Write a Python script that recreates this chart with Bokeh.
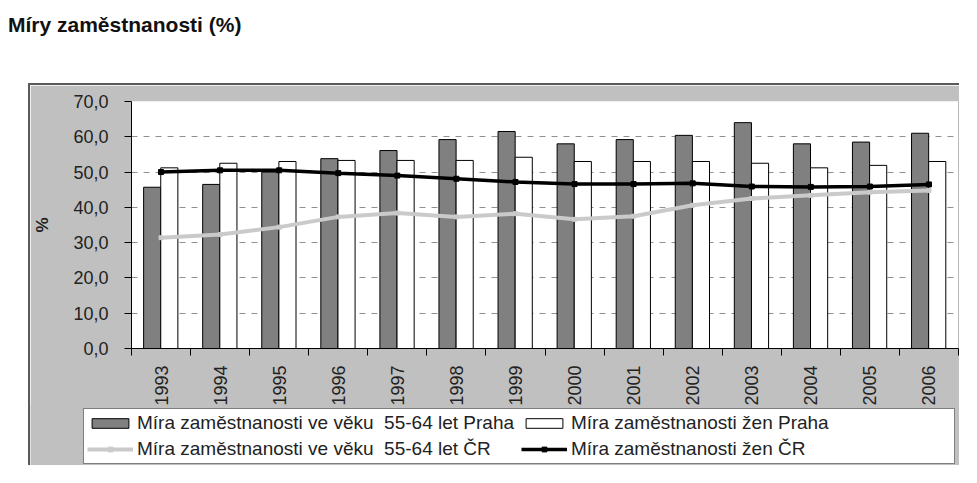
import numpy as np
from bokeh.plotting import figure
from bokeh.models import (Range1d, FixedTicker, Legend, LegendItem, Span, Div,
                          ColumnDataSource)
from bokeh.layouts import column, row
from bokeh.embed import file_html
from bokeh.resources import INLINE
from math import pi

# ---------------- data ----------------
title_text = "Míry zaměstnanosti (%)"
years = ["1993", "1994", "1995", "1996", "1997", "1998", "1999",
         "2000", "2001", "2002", "2003", "2004", "2005", "2006"]
praha_55_64 = [45.7, 46.5, 50.0, 53.8, 56.1, 59.2, 61.5, 58.0, 59.2, 60.4, 64.0, 58.0, 58.5, 61.0]
praha_zeny = [51.2, 52.5, 53.0, 53.3, 53.3, 53.3, 54.2, 53.0, 53.0, 53.0, 52.5, 51.2, 51.9, 53.0]
cr_55_64 = [31.4, 32.3, 34.4, 37.3, 38.4, 37.3, 38.2, 36.6, 37.5, 40.6, 42.5, 43.4, 44.3, 44.8]
cr_zeny = [50.0, 50.5, 50.5, 49.7, 49.0, 48.1, 47.2, 46.6, 46.6, 46.8, 45.9, 45.8, 45.9, 46.5]
y_ticks = [0, 10, 20, 30, 40, 50, 60, 70]
y_tick_labels = ["0,0", "10,0", "20,0", "30,0", "40,0", "50,0", "60,0", "70,0"]
y_axis_label = "%"
legend_labels = ["Míra zaměstnanosti ve věku  55-64 let Praha",
                 "Míra zaměstnanosti žen Praha",
                 "Míra zaměstnanosti ve věku  55-64 let ČR",
                 "Míra zaměstnanosti žen ČR"]

# ---------------- style ----------------
FONT = "Liberation Sans"
BG = "#c0c0c0"
EDGE = "2px solid #5a5a5a"
n = len(years)
centers = np.arange(n) + 0.5
bar_w = 0.29

src = ColumnDataSource(dict(
    x_gray=centers - 0.15,
    x_white=centers + 0.14,
    x=centers,
    praha_55_64=praha_55_64,
    praha_zeny=praha_zeny,
    cr_55_64=cr_55_64,
    cr_zeny=cr_zeny,
))


def draw_series(fig):
    rg = fig.vbar(x="x_gray", top="praha_55_64", width=bar_w, source=src,
                  fill_color="#808080", line_color="black", line_width=1)
    rw = fig.vbar(x="x_white", top="praha_zeny", width=bar_w, source=src,
                  fill_color="white", line_color="black", line_width=1)
    gl = fig.line(x="x", y="cr_55_64", source=src, line_color="#cacaca", line_width=4)
    gm = fig.scatter(x="x", y="cr_55_64", source=src, marker="square", size=4,
                     fill_color="#cacaca", line_color="#cacaca")
    bl = fig.line(x="x", y="cr_zeny", source=src, line_color="black", line_width=3.5)
    bm = fig.scatter(x="x", y="cr_zeny", source=src, marker="square", size=5,
                     fill_color="black", line_color="black")
    return rg, rw, gl, gm, bl, bm


# ---------------- main chart ----------------
p = figure(width=931, height=324, output_backend="svg", toolbar_location=None,
           x_range=Range1d(0, n), y_range=Range1d(0, 70),
           min_border_left=100, min_border_right=3, min_border_top=16,
           min_border_bottom=61,
           border_fill_color=BG, background_fill_color="white",
           outline_line_color=None, margin=(0, 0, 0, 28),
           styles={"border-left": EDGE, "border-top": EDGE})

draw_series(p)
p.add_layout(Span(location=n, dimension="height", line_color="#808080", line_width=1))

p.xgrid.visible = False
p.ygrid.ticker = FixedTicker(ticks=y_ticks[1:-1])
p.ygrid.grid_line_color = "#909090"
p.ygrid.grid_line_dash = "6 6"
p.ygrid.grid_line_width = 1

p.yaxis.ticker = FixedTicker(ticks=y_ticks)
p.yaxis.major_label_overrides = {t: l for t, l in zip(y_ticks, y_tick_labels)}
p.yaxis.minor_tick_line_color = None
p.yaxis.major_tick_in = 0
p.yaxis.major_tick_out = 7
p.yaxis.major_label_standoff = 16
p.yaxis.axis_line_color = "black"
p.yaxis.major_tick_line_color = "black"
p.yaxis.major_label_text_font = FONT
p.yaxis.major_label_text_font_size = "18px"
p.yaxis.major_label_text_color = "#222222"
p.yaxis.axis_label = y_axis_label
p.yaxis.axis_label_text_font = FONT
p.yaxis.axis_label_text_font_size = "17px"
p.yaxis.axis_label_text_font_style = "bold"
p.yaxis.axis_label_text_color = "#222222"
p.yaxis.axis_label_standoff = 18

p.xaxis.ticker = FixedTicker(ticks=list(centers), minor_ticks=list(range(n + 1)))
p.xaxis.major_label_overrides = {float(c): y for c, y in zip(centers, years)}
p.xaxis.major_tick_line_color = None
p.xaxis.major_tick_in = 0
p.xaxis.major_tick_out = 0
p.xaxis.minor_tick_in = 0
p.xaxis.minor_tick_out = 7
p.xaxis.minor_tick_line_color = "black"
p.xaxis.axis_line_color = "black"
p.xaxis.major_label_orientation = pi / 2
p.xaxis.major_label_standoff = 10
p.xaxis.major_label_text_font = FONT
p.xaxis.major_label_text_font_size = "18px"
p.xaxis.major_label_text_color = "#222222"

# ---------------- legend strip (same gray frame, continued) ----------------
lg = figure(width=931, height=60, output_backend="svg", toolbar_location=None,
            x_range=Range1d(0, n), y_range=Range1d(1000, 1001),
            x_axis_location=None, y_axis_location=None,
            min_border=0, min_border_left=0, min_border_right=0,
            min_border_top=0, min_border_bottom=0,
            border_fill_color=BG, background_fill_color=BG,
            outline_line_color=None, margin=(0, 0, 0, 0),
            styles={"border-left": EDGE})
lg.grid.visible = False
rg, rw, gl, gm, bl, bm = draw_series(lg)

legend = Legend(items=[
    LegendItem(label=legend_labels[0], renderers=[rg]),
    LegendItem(label=legend_labels[1], renderers=[rw]),
    LegendItem(label=legend_labels[2], renderers=[gl, gm]),
    LegendItem(label=legend_labels[3], renderers=[bl, bm]),
], location=(53, 1), orientation="horizontal", ncols=2,
    glyph_width=46, glyph_height=12, label_standoff=4, label_width=380,
    label_height=20, spacing=4, padding=3, margin=0,
    label_text_font=FONT, label_text_font_size="19px", label_text_color="#222222",
    border_line_color="black", border_line_width=1,
    background_fill_color="white", background_fill_alpha=1.0)
lg.add_layout(legend, "center")

title = Div(text=title_text, width=900, height=83, margin=(0, 0, 0, 0),
            styles={"font-family": FONT, "font-weight": "bold", "font-size": "21px",
                    "color": "#111111", "padding-top": "10px", "padding-left": "8px"})

lg_wrap = row(lg, margin=(-2, 0, 0, 28))
layout = column(title, p, lg_wrap, spacing=0)

open("out.html", "w").write(file_html(layout, INLINE))
